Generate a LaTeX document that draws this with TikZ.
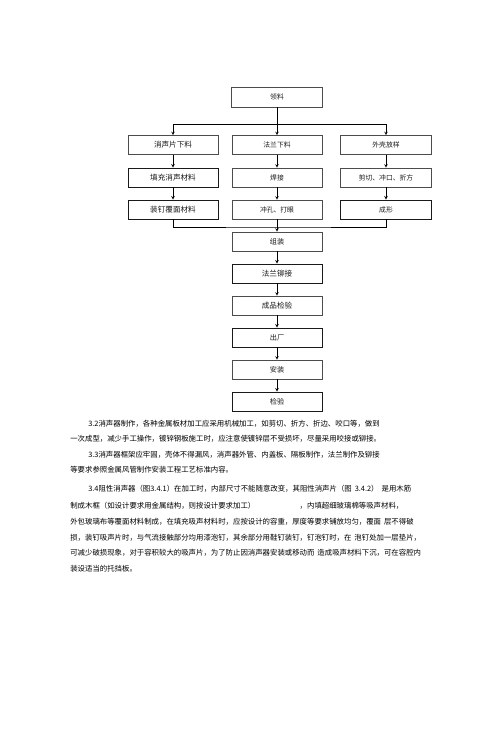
\documentclass[tikz,border=0pt]{standalone}
\usepackage{fontspec}
\setmainfont{Noto Sans CJK SC}
\XeTeXlinebreaklocale "zh"
\XeTeXlinebreakskip = 0pt plus 1pt

\tikzstyle{caixa} = [draw=black!70, line width=0.6pt, minimum width=90pt, minimum height=19pt, inner sep=0pt, text=black!90, font=\fontsize{6.8}{6.8}\selectfont]
\tikzstyle{caixab} = [caixa, draw=black!90, line width=0.9pt]
\tikzstyle{maior} = [font=\fontsize{7.6}{7.6}\selectfont]
\tikzstyle{texto} = [anchor=west, inner sep=0pt, text=black, font=\fontsize{7.4}{7.4}\selectfont]

\newcommand{\vaga}{\hspace{3pt}}

\begin{document}
\begin{tikzpicture}[>=stealth, x=1pt, y=-1pt, line width=0.6pt]

    \useasboundingbox (0,0) rectangle (500,743);

    % material pick-up
    \node at (277,97) [caixa, minimum width=91pt, minimum height=20pt] (lingliao) {领料};
    \coordinate (fork) at (277,124.5);

    % silencer sheets
    \node at (173,145) [caixa, maior] (A1) {消声片下料};
    \node at (173,177.5) [caixab, maior] (A2) {填充消声材料};
    \node at (173,209.5) [caixab, maior] (A3) {装钉覆面材料};

    % flanges
    \node at (277,145) [caixa] (B1) {法兰下料};
    \node at (277,177.5) [caixa] (B2) {焊接};
    \node at (277,209.5) [caixa] (B3) {冲孔、打眼};

    % outer shell
    \node at (386,145) [caixa, minimum width=91pt] (C1) {外壳放样};
    \node at (386,177.5) [caixa, minimum width=91pt] (C2) {剪切、冲口、折方};
    \node at (386,209.5) [caixab, minimum width=91pt] (C3) {成形};
    \coordinate (merge) at (277,227);

    % main line
    \node at (277,241.5) [caixa, font=\fontsize{7.2}{7.2}\selectfont] (zuzhuang) {组装};
    \node at (277,273.5) [caixab, maior] (maojie) {法兰铆接};
    \node at (277,305.5) [caixa, maior] (chengpin) {成品检验};
    \node at (277,337.5) [caixab, font=\fontsize{7.2}{7.2}\selectfont] (chuchang) {出厂};
    \node at (277,369.5) [caixa, font=\fontsize{7.2}{7.2}\selectfont] (anzhuang) {安装};
    \node at (277,401.5) [caixab, font=\fontsize{7.2}{7.2}\selectfont] (jianyan) {检验};

    % connectors
    \draw [->] (lingliao) -- (B1);
    \draw [->] (fork) -| (A1);
    \draw [->] (fork) -| (C1);
    \draw [->] (A1) -- (A2);
    \draw [->] (A2) -- (A3);
    \draw [->] (B1) -- (B2);
    \draw [->] (B2) -- (B3);
    \draw [->] (C1) -- (C2);
    \draw [->] (C2) -- (C3);
    \draw [] (A3) |- (merge) -| (C3);
    \draw [->] (B3) -- (zuzhuang);
    \draw [->] (zuzhuang) -- (maojie);
    \draw [->] (maojie) -- (chengpin);
    \draw [->] (chengpin) -- (chuchang);
    \draw [->] (chuchang) -- (anzhuang);
    \draw [->] (anzhuang) -- (jianyan);

    % text below the chart
    \node at (88,424) [texto] (l1) {\makebox[317pt][s]{3.2消声器制作，各种金属板材加工应采用机械加工，如剪切、折方、折边、咬口等，做到}};
    \node at (70,439) [texto] (l2) {\makebox[332pt][s]{一次成型，减少手工操作，镀锌钢板施工时，应注意使镀锌层不受损坏，尽量采用咬接或铆接。}};
    \node at (88,455) [texto] (l3) {\makebox[304pt][s]{3.3消声器框架应牢固，壳体不得漏风，消声器外管、内盖板、隔板制作，法兰制作及铆接}};
    \node at (70,470) [texto] (l4) {等要求参照金属风管制作安装工程工艺标准内容。};
    \node at (88,489) [texto] (l5) {\makebox[340pt][s]{3.4阻性消声器（图3.4.1）在加工时，内部尺寸不能随意改变，其阻性消声片（图\vaga{}3.4.2）\vaga{}是用木筋}};
    \node at (70,506) [texto] (l6) {\makebox[333pt][l]{制成木框（如设计要求用金属结构，则按设计要求加工）\hfill ，内填超细玻璃棉等吸声材料，}};
    \node at (70,522) [texto] (l7) {\makebox[358pt][s]{外包玻璃布等覆面材料制成，在填充吸声材料时，应按设计的容重，厚度等要求铺放均匀，覆面\vaga{}层不得破}};
    \node at (70,538) [texto] (l8) {\makebox[358pt][s]{损，装钉吸声片时，与气流接触部分均用漆泡钉，其余部分用鞋钉装钉，钉泡钉时，在\vaga{}泡钉处加一层垫片，}};
    \node at (70,553) [texto] (l9) {\makebox[358pt][s]{可减少破损现象，对于容积较大的吸声片，为了防止因消声器安装或移动而\vaga{}造成吸声材料下沉，可在容腔内}};
    \node at (70,569) [texto] (l10) {装设适当的托挡板。};

\end{tikzpicture}
\end{document}
